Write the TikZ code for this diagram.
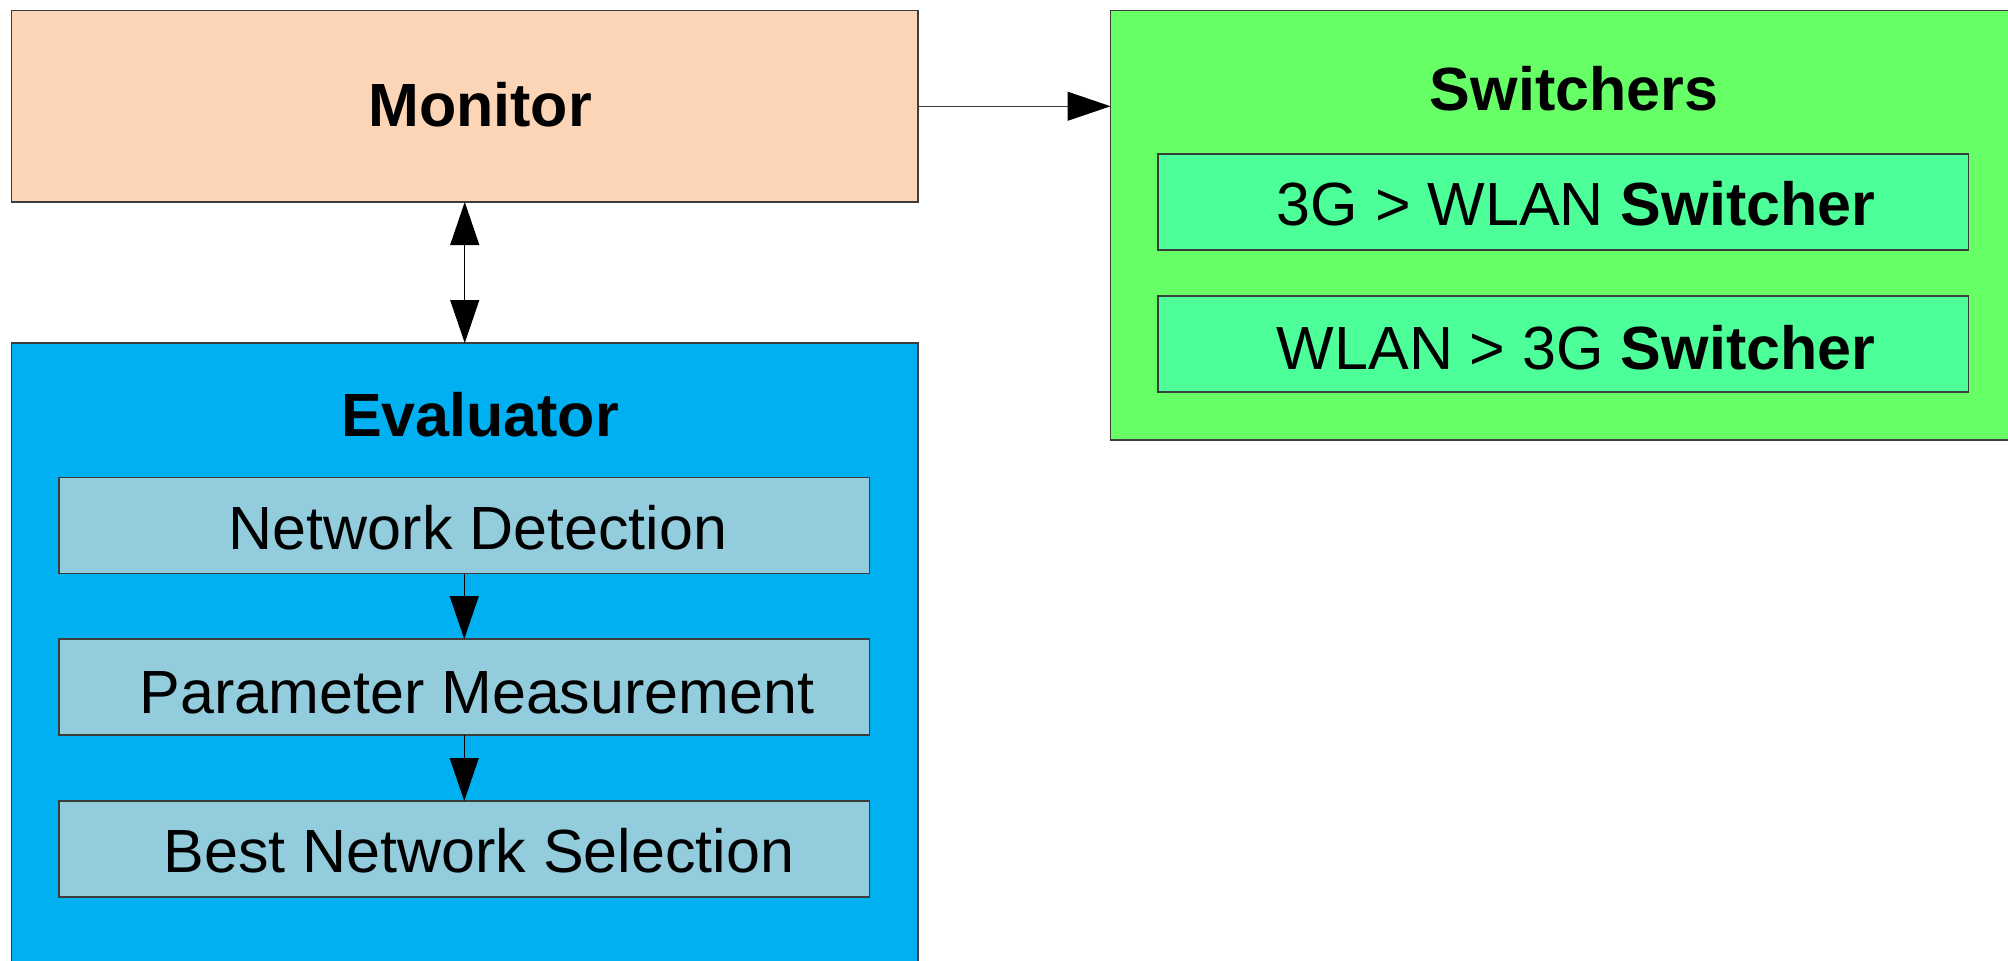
\documentclass[tikz,border=0pt]{standalone}
\usepackage{fontspec}
\setmainfont{Liberation Sans}
\usetikzlibrary{arrows.meta}
\definecolor{monfill}{RGB}{251,213,181}
\definecolor{swfill}{RGB}{102,255,102}
\definecolor{swin}{RGB}{77,255,153}
\definecolor{evfill}{RGB}{0,176,240}
\definecolor{evin}{RGB}{147,205,221}
\definecolor{edge}{RGB}{60,60,60}
\tikzset{
  box/.style={draw=edge, line width=0.75pt, inner sep=0pt, outer sep=0pt, rectangle},
  lbl/.style={anchor=base, inner sep=0pt, font=\fontsize{30.5}{34}\selectfont},
  conn/.style={line width=0.5pt, draw=black},
  tip/.style={-{Triangle[length=21.5pt,width=14.5pt,color=black]}},
  tips/.style={{Triangle[length=21.5pt,width=14.5pt]}-{Triangle[length=21.5pt,width=14.5pt]}}
}
\begin{document}
\begin{tikzpicture}[x=0.5pt,y=-0.5pt]
\useasboundingbox (0,0) rectangle (2008,960);
% boxes
\node[box, fill=monfill, minimum width=453.25pt, minimum height=95.75pt] (mon) at (464.75,106.25) {};
\node[box, fill=swfill, minimum width=450.75pt, minimum height=214.75pt] (sw) at (1561.25,225.25) {};
\node[box, fill=swin, minimum width=405.25pt, minimum height=48pt] (s1) at (1563.25,202) {};
\node[box, fill=swin, minimum width=405.25pt, minimum height=48pt] (s2) at (1563.25,344) {};
\node[box, fill=evfill, minimum width=453.25pt, minimum height=313.5pt] (ev) at (464.75,656.5) {};
\node[box, fill=evin, minimum width=405.25pt, minimum height=48pt] (nd) at (464.25,525.5) {};
\node[box, fill=evin, minimum width=405.25pt, minimum height=48pt] (pm) at (464.25,687) {};
\node[box, fill=evin, minimum width=405.25pt, minimum height=48pt] (bn) at (464.25,849) {};
% labels
\node[lbl] (tmon) at (480,126) {\textbf{Monitor}};
\node[lbl] (tsw) at (1574,110) {\textbf{Switchers}};
\node[lbl] (ts1) at (1576,225) {3G > WLAN \textbf{Switcher}};
\node[lbl] (ts2) at (1576,369) {WLAN > 3G \textbf{Switcher}};
\node[lbl] (tev) at (480,436) {\textbf{Evaluator}};
\node[lbl] (tnd) at (478,549) {Network Detection};
\node[lbl] (tpm) at (477,713) {Parameter Measurement};
\node[lbl] (tbn) at (479,872) {Best Network Selection};
% connectors
\draw[conn, draw=edge, tip] (mon.east) -- (mon.east -| sw.west);
\draw[conn, tips] (mon.south) -- (mon.south |- ev.north);
\draw[conn, tip] (nd.south) -- (pm.north);
\draw[conn, tip] (pm.south) -- (bn.north);
\end{tikzpicture}
\end{document}
